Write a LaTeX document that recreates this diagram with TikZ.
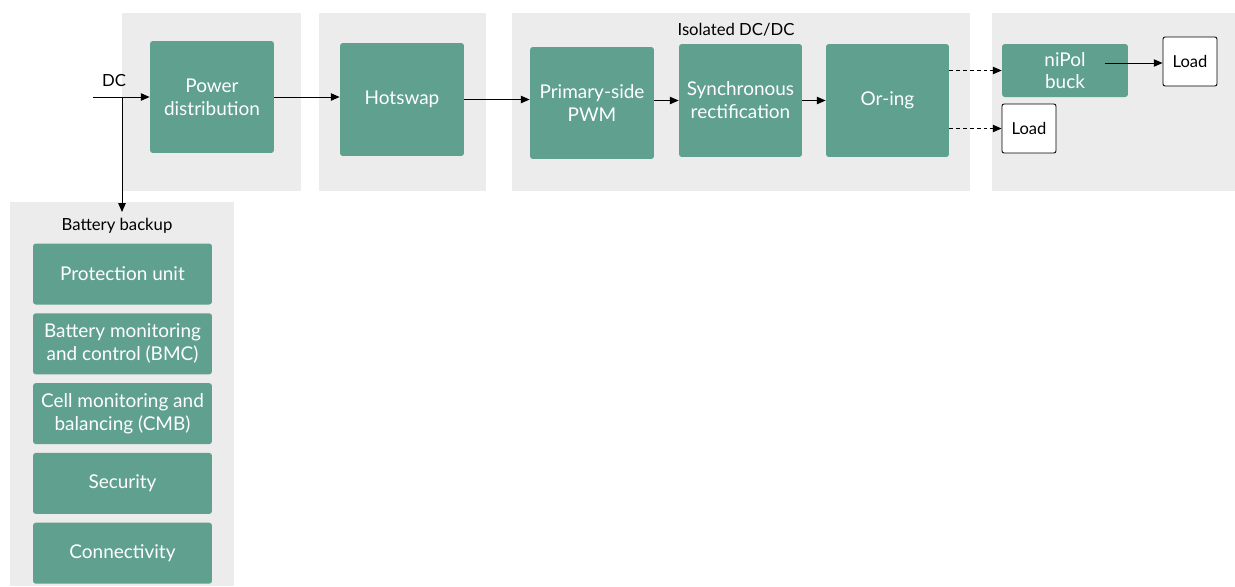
\documentclass[tikz,border=0pt]{standalone}
\usepackage{fontspec}
\setmainfont{Lato}
\usetikzlibrary{arrows.meta}
\definecolor{panelgray}{HTML}{EBECEB}
\definecolor{blockgreen}{HTML}{5FA08E}

\begin{document}
\begin{tikzpicture}[x=0.02cm,y=-0.02cm,
    panel/.style = {fill=panelgray,draw=none},
    block/.style = {rectangle,fill=blockgreen,rounded corners=1.6pt,text=white,align=center,
                    inner sep=0pt,font=\fontsize{10.8}{13}\selectfont},
    loadbox/.style = {rectangle,draw=black,fill=white,rounded corners=1.2pt,line width=0.5pt,
                    minimum width=1.08cm,minimum height=0.98cm,inner sep=0pt,font=\fontsize{9.4}{11}\selectfont},
    label/.style = {font=\fontsize{9.5}{11}\selectfont,inner sep=0pt},
    conn/.style = {line width=0.55pt,-{Triangle[length=5pt,width=4.2pt]}},
    dashconn/.style = {conn,dash pattern=on 2.2pt off 1.7pt}]
\useasboundingbox (0,0) rectangle (1235,586);

% background panels
\fill[panel] (122,13) rectangle (301,191);
\fill[panel] (319,13) rectangle (486,191);
\fill[panel] (512,13) rectangle (970,191);
\fill[panel] (992,13) rectangle (1235,191);
\fill[panel] (10,202) rectangle (234,586);

% main chain
\node[block,minimum width=2.48cm,minimum height=2.24cm] (pd)   at (212,97)    {Power\\distribution};
\node[block,minimum width=2.48cm,minimum height=2.26cm] (hs)   at (402,99.5)  {Hotswap};
\node[block,minimum width=2.48cm,minimum height=2.24cm] (pwm)  at (592,103)   {Primary-side\\PWM};
\node[block,minimum width=2.46cm,minimum height=2.26cm] (sync) at (740.5,100.5) {Synchronous\\rectification};
\node[block,minimum width=2.46cm,minimum height=2.26cm] (oring) at (887.5,100.5) {Or-ing};
\node[block,minimum width=2.52cm,minimum height=1.06cm] (nipol) at (1065,70.5) {niPol\\buck};
\node[loadbox] (loadA) at (1190,61.5)  {Load};
\node[loadbox] (loadB) at (1029,128.5) {Load};

\node[label] (iso) at (736,30)  {Isolated DC/DC};
\node[label] (dc)  at (114,81)  {DC};
\node[label] (bb)  at (117,226) {Battery backup};

% battery backup blocks
\foreach \t [count=\j from 0] in {Protection unit,
    Battery monitoring\\and control (BMC),
    Cell monitoring and\\balancing (CMB),
    Security,
    Connectivity}
    \node[block,minimum width=3.58cm,minimum height=1.22cm] (bat\j) at (122.5,274+69.8*\j) {\t};

% connectors
\coordinate (dcin)  at (93,97);
\coordinate (dctap) at (122,97);
\coordinate (bbin)  at (122,212);
\coordinate (nipolout) at (1105,63);
\draw[conn] (dcin) -- (pd.west);
\draw[conn] (dctap) -- (bbin);
\draw[conn] (pd.east) -- (pd.east -| hs.west);
\draw[conn] (hs.east) -- (hs.east -| pwm.west);
\draw[conn] (pwm.east |- sync.west) -- (sync.west);
\draw[conn] (sync.east) -- (oring.west);
\draw[dashconn] (oring.east |- nipol.west) -- (nipol.west);
\draw[dashconn] (oring.east |- loadB.west) -- (loadB.west);
\draw[conn] (nipolout) -- (nipolout -| loadA.west);
\end{tikzpicture}
\end{document}
